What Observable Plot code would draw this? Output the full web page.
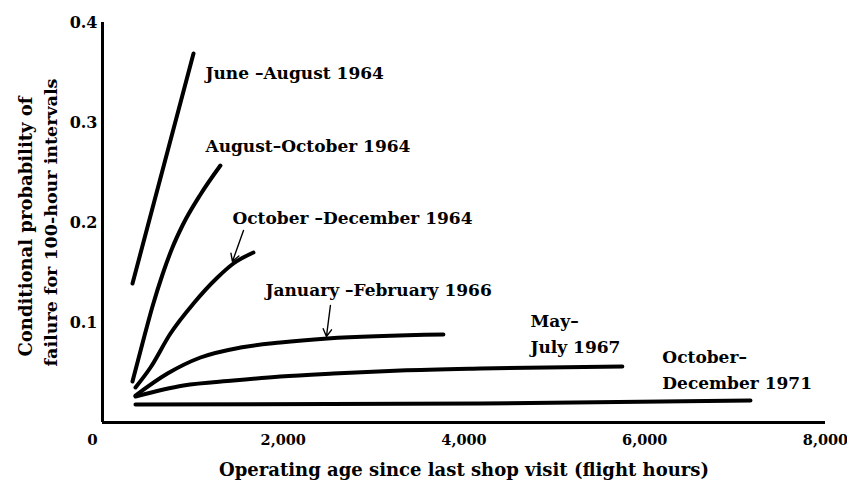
<!DOCTYPE html>
<html>
<head>
<meta charset="utf-8">
<script src="https://cdn.jsdelivr.net/npm/d3@7"></script>
<script src="https://cdn.jsdelivr.net/npm/@observablehq/plot@0.6"></script>
<style>
  html, body { margin: 0; padding: 0; background: #fff; }
  #chart svg { display: block; }
</style>
</head>
<body>
<div id="chart"></div>
<script>
// ---- data ----
const seriesNames = [
  "June–August 1964",
  "August–October 1964",
  "October–December 1964",
  "January–February 1966",
  "May–July 1967",
  "October–December 1971"
];
// [flight hours, conditional probability]
const juneAug1964 = [[332, 0.139], [1007, 0.369]];
const augOct1964 = [[332, 0.041], [442, 0.079], [553, 0.116], [664, 0.148], [774, 0.175], [885, 0.197], [1084, 0.228], [1305, 0.257]];
const octDec1964 = [[365, 0.035], [531, 0.055], [752, 0.089], [1007, 0.119], [1272, 0.145], [1449, 0.159], [1670, 0.170]];
const janFeb1966 = [[365, 0.027], [719, 0.049], [1084, 0.065], [1527, 0.075], [1969, 0.080], [2489, 0.084], [3772, 0.088]];
const mayJul1967 = [[365, 0.026], [896, 0.037], [1449, 0.042], [1969, 0.046], [2555, 0.049], [3296, 0.052], [4181, 0.054], [5752, 0.056]];
const octDec1971 = [[365, 0.018], [4181, 0.019], [7170, 0.022]];
const seriesValues = [juneAug1964, augOct1964, octDec1964, janFeb1966, mayJul1967, octDec1971];

// curve labels
const labelTexts = ["June –August 1964", "August–October 1964", "October –December 1964", "January –February 1966", "May–\nJuly 1967", "October–\nDecember 1971"];
const labelX = [1139, 1139, 1438, 1803, 4735, 6195];
const labelY = [0.344, 0.271, 0.199, 0.127, 0.070, 0.034];

// pointer arrows [x1, y1, x2, y2]
const arrowsData = [[1560, 0.192, 1438, 0.161], [2522, 0.117, 2478, 0.086]];

// axes
const xTicks = [0, 2000, 4000, 6000, 8000];
const yTicks = [0.1, 0.2, 0.3, 0.4];
const xTitle = "Operating age since last shop visit (flight hours)";
const yTitleLines = ["Conditional probability of", "failure for 100-hour intervals"];

// ---- build tables ----
const lineRows = seriesValues.flatMap((pts, i) => pts.map(([x, y]) => ({series: seriesNames[i], x, y})));
const labelRows = labelTexts.map((t, i) => ({t, x: labelX[i], y: labelY[i]}));
const arrowRows = arrowsData.map(([x1, y1, x2, y2]) => ({x1, y1, x2, y2}));

const chart = Plot.plot({
  width: 847,
  height: 481,
  marginLeft: 102,
  marginRight: 22,
  marginTop: 22,
  marginBottom: 59,
  x: {domain: [0, 8000]},
  y: {domain: [0, 0.4]},
  style: {fontFamily: "'DejaVu Serif', serif", fontWeight: "bold", background: "#fff", color: "#000"},
  marks: [
    Plot.axisY(yTicks, {tickSize: 0, tickPadding: 5, fontSize: 16, label: null, tickFormat: d => d.toFixed(1)}),
    Plot.axisX([xTicks[0]], {tickSize: 0, tickPadding: 12, fontSize: 15, label: null, dx: -10, tickFormat: d => String(d)}),
    Plot.axisX(xTicks.slice(1), {tickSize: 0, tickPadding: 12, fontSize: 14.5, label: null, tickFormat: d3.format(",")}),
    Plot.ruleX([0], {strokeWidth: 3, stroke: "#000"}),
    Plot.ruleY([0], {strokeWidth: 3, stroke: "#000"}),
    Plot.line(lineRows, {x: "x", y: "y", z: "series", stroke: "#000", strokeWidth: 4, curve: "monotone-x", strokeLinecap: "round"}),
    Plot.arrow(arrowRows, {x1: "x1", y1: "y1", x2: "x2", y2: "y2", stroke: "#000", strokeWidth: 1.4, headLength: 9, bend: 0}),
    Plot.text(labelRows, {x: "x", y: "y", text: "t", textAnchor: "start", lineAnchor: "bottom", fontSize: 17, lineHeight: 1.5, fill: "#000"}),
    Plot.text([xTitle], {frameAnchor: "bottom", lineAnchor: "bottom", dy: 53, fontSize: 18, fill: "#000"}),
    Plot.text([yTitleLines[0]], {frameAnchor: "left", rotate: -90, lineAnchor: "bottom", textAnchor: "middle", dx: -71, dy: 4, fontSize: 18, fill: "#000", letterSpacing: 1}),
    Plot.text([yTitleLines[1]], {frameAnchor: "left", rotate: -90, lineAnchor: "bottom", textAnchor: "middle", dx: -46, dy: 0, fontSize: 17.5, fill: "#000"})
  ]
});
document.getElementById("chart").appendChild(chart);
</script>
</body>
</html>
